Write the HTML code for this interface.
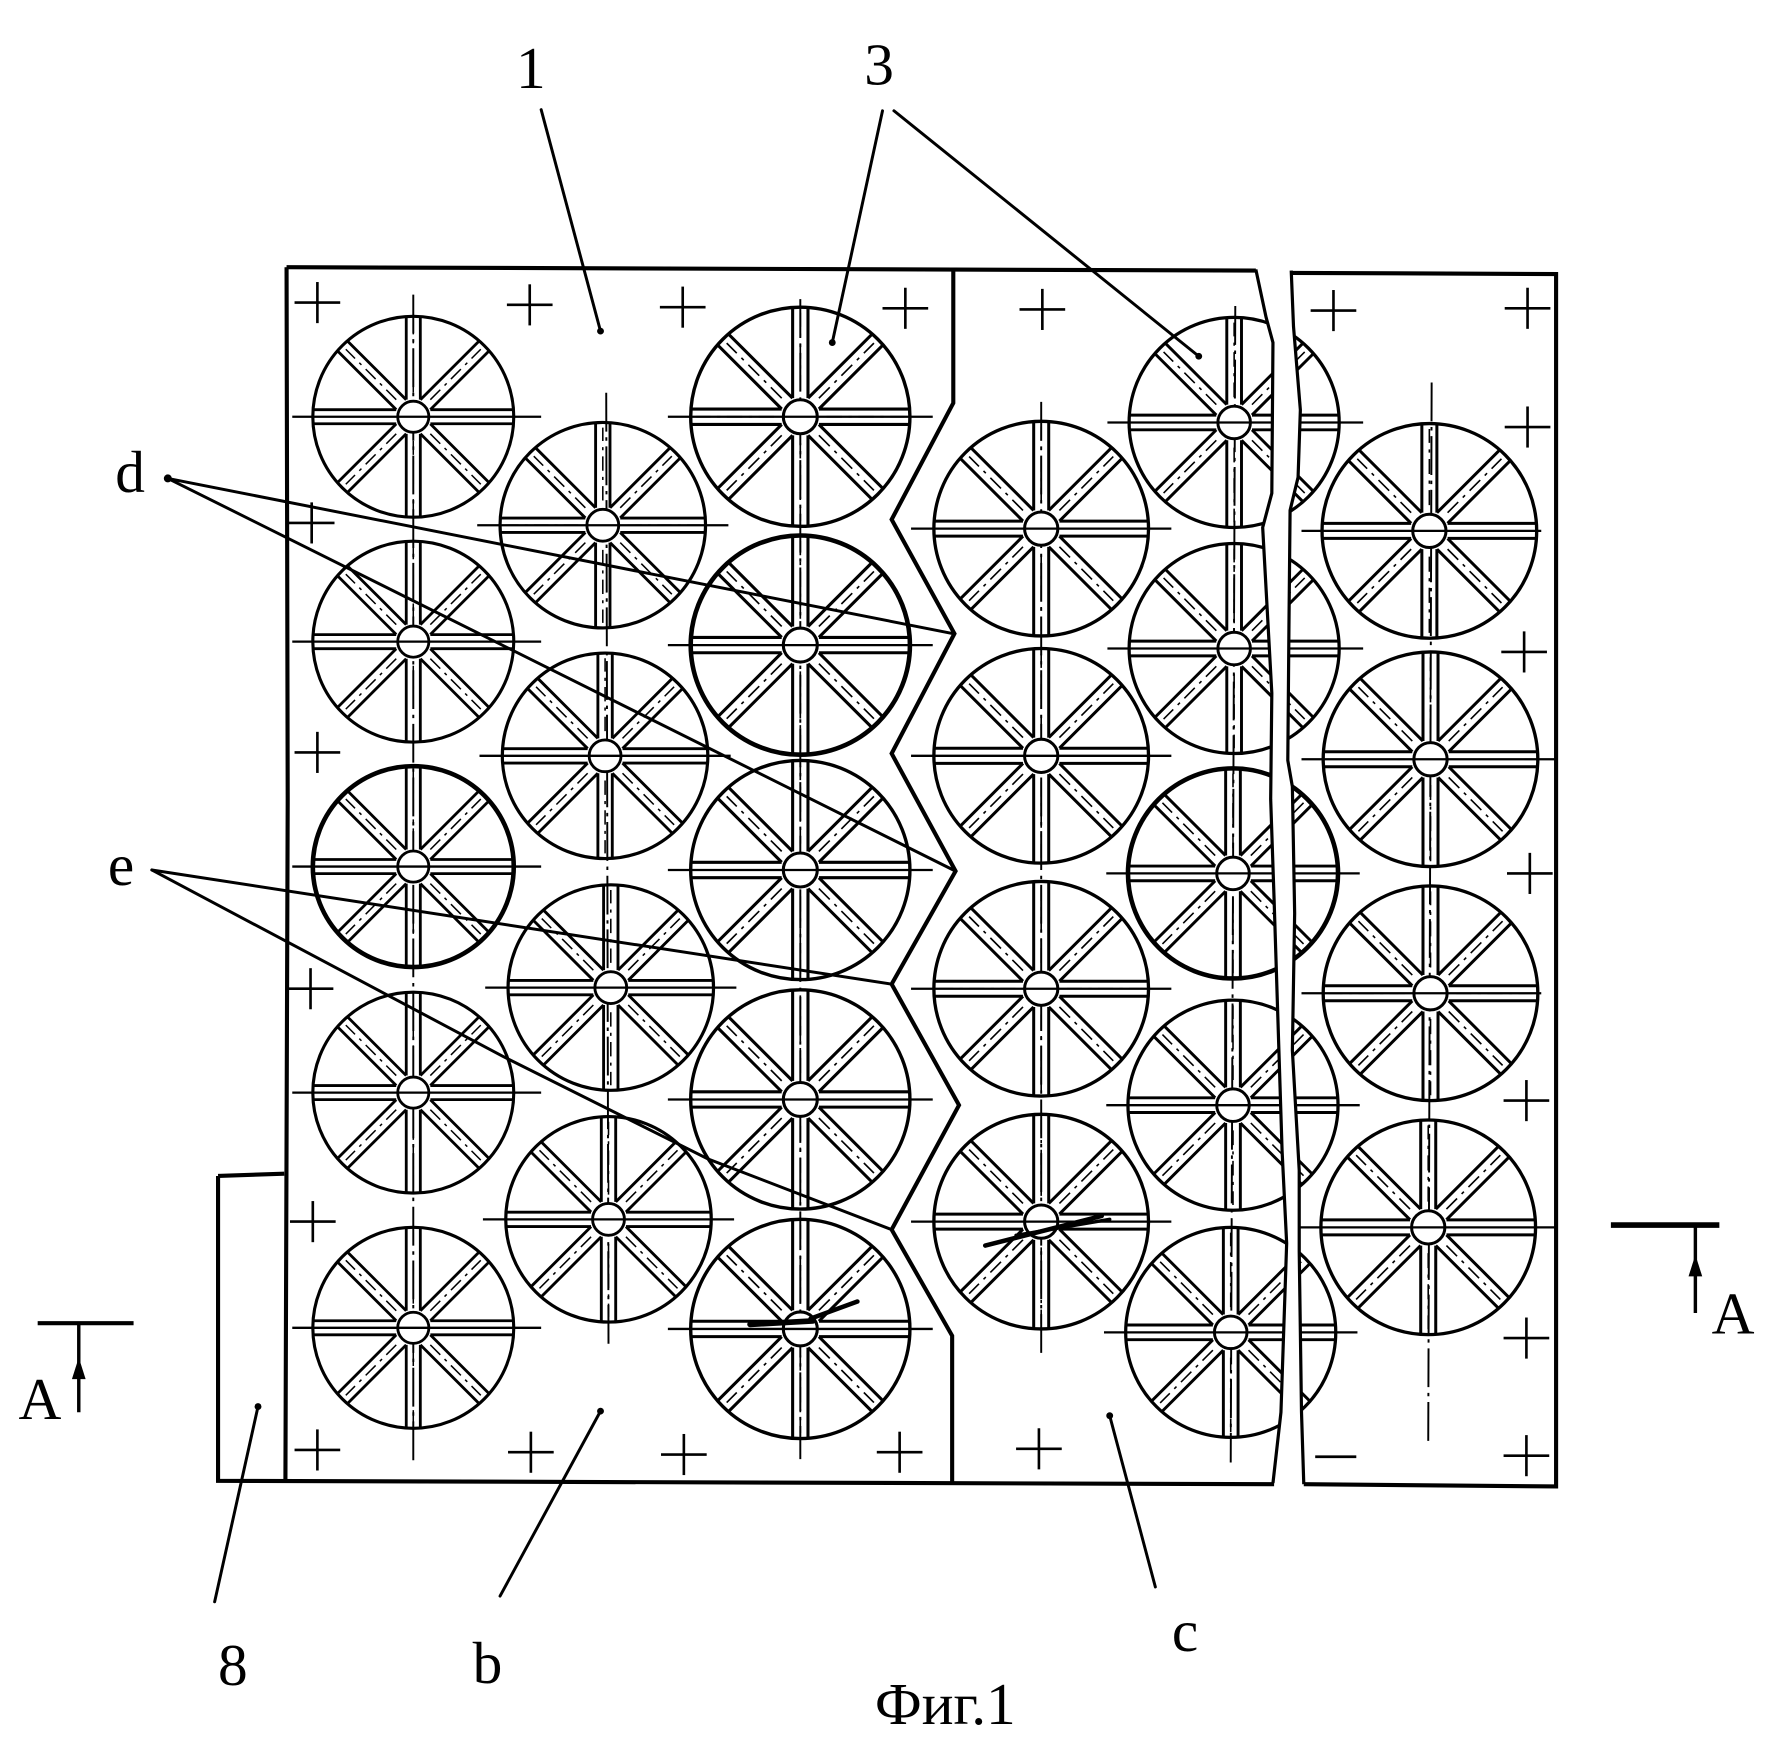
<!DOCTYPE html>
<html><head><meta charset="utf-8"><style>
html,body{margin:0;padding:0;background:#fff;}
svg{display:block;}
text{font-family:"Liberation Serif","DejaVu Serif",serif;font-size:52px;fill:#000;}
</style></head><body>
<svg width="1781" height="1745" viewBox="0 0 1560 1528.4" xmlns="http://www.w3.org/2000/svg">
<defs>
<g id="sp">
<line x1="17" y1="-7" x2="99.7" y2="-7"/>
<line x1="17" y1="7" x2="99.7" y2="7"/>
<line x1="24" y1="0" x2="95" y2="0" stroke-width="1.5" stroke-dasharray="14 6 3 6"/>
</g>
<g id="wh" fill="none" stroke="#000">
<circle r="100" stroke-width="3.1"/>
<g stroke-width="2.8">
<use href="#sp"/>
<use href="#sp" transform="rotate(45)"/>
<use href="#sp" transform="rotate(90)"/>
<use href="#sp" transform="rotate(135)"/>
<use href="#sp" transform="rotate(180)"/>
<use href="#sp" transform="rotate(225)"/>
<use href="#sp" transform="rotate(270)"/>
<use href="#sp" transform="rotate(315)"/>
</g>
<circle r="15.5" fill="#fff" stroke-width="2.8"/>
</g>
<g id="cr" stroke="#000" stroke-width="2.3">
<line x1="-20" y1="0" x2="20" y2="0"/>
<line x1="0" y1="-18" x2="0" y2="18"/>
</g>
</defs>
<rect x="0" y="0" width="1560" height="1528.4" fill="#fff"/>

<!-- vertical centerlines -->
<g stroke="#000" stroke-width="1.7" stroke-dasharray="34 5 3 5" fill="none">
<line x1="362" y1="258" x2="362" y2="1283"/>
<line x1="531" y1="344" x2="533" y2="1182"/>
<line x1="701" y1="262" x2="701" y2="1278"/>
<line x1="912" y1="352" x2="912" y2="1185"/>
<line x1="1082" y1="268" x2="1078" y2="1281"/>
<line x1="1254" y1="335" x2="1251" y2="1265"/>
</g>

<!-- wheels -->
<use href="#wh" transform="translate(362,365) scale(0.88)"/>
<use href="#wh" transform="translate(362,562) scale(0.88)"/>
<use href="#wh" transform="translate(362,759) scale(0.88)"/>
<use href="#wh" transform="translate(362,957) scale(0.88)"/>
<use href="#wh" transform="translate(362,1163) scale(0.88)"/>

<use href="#wh" transform="translate(528,460) scale(0.90)"/>
<use href="#wh" transform="translate(530,662) scale(0.90)"/>
<use href="#wh" transform="translate(535,865) scale(0.90)"/>
<use href="#wh" transform="translate(533,1068) scale(0.90)"/>

<use href="#wh" transform="translate(701,365) scale(0.96)"/>
<use href="#wh" transform="translate(701,565) scale(0.96)"/>
<use href="#wh" transform="translate(701,762) scale(0.96)"/>
<use href="#wh" transform="translate(701,963) scale(0.96)"/>
<use href="#wh" transform="translate(701,1164) scale(0.96)"/>

<use href="#wh" transform="translate(912,463) scale(0.94)"/>
<use href="#wh" transform="translate(912,662) scale(0.94)"/>
<use href="#wh" transform="translate(912,866) scale(0.94)"/>
<use href="#wh" transform="translate(912,1070) scale(0.94)"/>

<use href="#wh" transform="translate(1081,370) scale(0.92)"/>
<use href="#wh" transform="translate(1081,568) scale(0.92)"/>
<use href="#wh" transform="translate(1080,765) scale(0.92)"/>
<use href="#wh" transform="translate(1080,968) scale(0.92)"/>
<use href="#wh" transform="translate(1078,1167) scale(0.92)"/>

<use href="#wh" transform="translate(1252,465) scale(0.94)"/>
<use href="#wh" transform="translate(1253,665) scale(0.94)"/>
<use href="#wh" transform="translate(1253,870) scale(0.94)"/>
<use href="#wh" transform="translate(1251,1075) scale(0.94)"/>

<!-- bold rims -->
<g fill="none" stroke="#000" stroke-width="4">
<circle cx="362" cy="759" r="88"/>
<circle cx="701" cy="565" r="96"/>
<circle cx="1080" cy="765" r="92"/>
</g>

<!-- horizontal centerlines -->
<g stroke="#000" stroke-width="2" fill="none">
<line x1="256" y1="365" x2="474" y2="365"/>
<line x1="256" y1="562" x2="474" y2="562"/>
<line x1="256" y1="759" x2="474" y2="759"/>
<line x1="256" y1="957" x2="474" y2="957"/>
<line x1="256" y1="1163" x2="474" y2="1163"/>
<line x1="418" y1="460" x2="638" y2="460"/>
<line x1="420" y1="662" x2="640" y2="662"/>
<line x1="425" y1="865" x2="645" y2="865"/>
<line x1="423" y1="1068" x2="643" y2="1068"/>
<line x1="585" y1="365" x2="817" y2="365"/>
<line x1="585" y1="565" x2="817" y2="565"/>
<line x1="585" y1="762" x2="817" y2="762"/>
<line x1="585" y1="963" x2="817" y2="963"/>
<line x1="585" y1="1164" x2="817" y2="1164"/>
<line x1="798" y1="463" x2="1026" y2="463"/>
<line x1="798" y1="662" x2="1026" y2="662"/>
<line x1="798" y1="866" x2="1026" y2="866"/>
<line x1="798" y1="1070" x2="1026" y2="1070"/>
<line x1="970" y1="370" x2="1194" y2="370"/>
<line x1="970" y1="568" x2="1194" y2="568"/>
<line x1="969" y1="765" x2="1191" y2="765"/>
<line x1="969" y1="968" x2="1191" y2="968"/>
<line x1="967" y1="1167" x2="1189" y2="1167"/>
<line x1="1140" y1="465" x2="1350" y2="465"/>
<line x1="1140" y1="665" x2="1363" y2="665"/>
<line x1="1140" y1="870" x2="1350" y2="870"/>
<line x1="1138" y1="1075" x2="1363" y2="1075"/>
</g>

<!-- scribbles -->
<g stroke="#000" stroke-linecap="round" fill="none">
<line x1="863" y1="1091" x2="965" y2="1065" stroke-width="4"/>
<line x1="890" y1="1082" x2="972" y2="1068" stroke-width="3"/>
<line x1="657" y1="1160" x2="712" y2="1157" stroke-width="5"/>
<line x1="710" y1="1155" x2="751" y2="1140" stroke-width="4"/>
</g>

<!-- gap between break lines -->
<polygon fill="#fff" points="1100,236 1109,278 1115,300 1114,432 1106,462 1114,607 1113,700 1116,788 1123,1008 1127,1089 1122,1237 1115,1299 1142,1300 1140,1237 1138,1096 1138,1025 1132,920 1134,800 1132,689 1128,666 1129,549 1130,447 1137,418 1139,359 1133,286 1131,237"/>

<!-- frame -->
<g stroke="#000" stroke-width="3.6" fill="none" stroke-linejoin="miter">
<path d="M251,234 L1100,237"/>
<path d="M251,234 L252,700 L250,1297"/>
<path d="M191,1030 L249,1028"/>
<path d="M191,1030 L191,1297 L1116,1300"/>
<path d="M835,236 L835,353 L781,455 L836,555 L781,660 L837,763 L781,862 L840,968 L781,1077 L834,1170 L834,1299"/>
<path d="M1131,239 L1363,240 L1363,1302 L1142,1300"/>
</g>
<g stroke="#000" stroke-width="2.8" fill="none">
<polyline points="1100,236 1109,278 1115,300 1114,432 1106,462 1114,607 1113,700 1116,788 1123,1008 1127,1089 1122,1237 1115,1299"/>
<polyline points="1131,237 1133,286 1139,359 1137,418 1130,447 1129,549 1128,666 1132,689 1134,800 1132,920 1138,1025 1138,1096 1140,1237 1142,1300"/>
</g>

<!-- crosses -->
<use href="#cr" transform="translate(278,265)"/>
<use href="#cr" transform="translate(464,267)"/>
<use href="#cr" transform="translate(598,269)"/>
<use href="#cr" transform="translate(793,270)"/>
<use href="#cr" transform="translate(913,271)"/>
<use href="#cr" transform="translate(1168,272)"/>
<use href="#cr" transform="translate(1338,270)"/>
<use href="#cr" transform="translate(1338,374)"/>
<use href="#cr" transform="translate(1335,571)"/>
<use href="#cr" transform="translate(1340,765)"/>
<use href="#cr" transform="translate(1337,964)"/>
<use href="#cr" transform="translate(1337,1172)"/>
<use href="#cr" transform="translate(1337,1275)"/>
<use href="#cr" transform="translate(273,458)"/>
<use href="#cr" transform="translate(278,659)"/>
<use href="#cr" transform="translate(272,866)"/>
<use href="#cr" transform="translate(274,1070)"/>
<use href="#cr" transform="translate(278,1270)"/>
<use href="#cr" transform="translate(465,1272)"/>
<use href="#cr" transform="translate(599,1274)"/>
<use href="#cr" transform="translate(788,1272)"/>
<use href="#cr" transform="translate(910,1269)"/>
<line x1="1152" y1="1276" x2="1188" y2="1276" stroke="#000" stroke-width="2.4"/>

<!-- leaders -->
<g stroke="#000" stroke-width="2.6" fill="none" stroke-linecap="round">
<line x1="474" y1="96" x2="526" y2="290"/>
<line x1="773" y1="97" x2="729" y2="300"/>
<line x1="783" y1="97" x2="1050" y2="312"/>
<line x1="147" y1="419" x2="835" y2="555"/>
<line x1="147" y1="419" x2="837" y2="763"/>
<line x1="133" y1="762" x2="781" y2="862"/>
<path d="M133,762 L440,925 L620,1015 L781,1077"/>
<line x1="188" y1="1403" x2="226" y2="1232"/>
<line x1="438" y1="1398" x2="526" y2="1236"/>
<line x1="1012" y1="1390" x2="972" y2="1240"/>
</g>
<g fill="#000">
<circle cx="526" cy="290" r="3"/>
<circle cx="729" cy="300" r="3"/>
<circle cx="1050" cy="312" r="3"/>
<circle cx="147" cy="419" r="3.5"/>
<circle cx="226" cy="1232" r="3"/>
<circle cx="526" cy="1236" r="3"/>
<circle cx="972" cy="1240" r="3"/>
</g>

<!-- section marks A -->
<g stroke="#000" fill="none">
<line x1="33" y1="1159" x2="117" y2="1159" stroke-width="3.6"/>
<line x1="69" y1="1159" x2="69" y2="1237" stroke-width="3"/>
<line x1="1411" y1="1073" x2="1506" y2="1073" stroke-width="5"/>
<line x1="1485" y1="1073" x2="1485" y2="1150" stroke-width="3"/>
</g>
<polygon points="69,1189 63,1208 75,1208" fill="#000"/>
<polygon points="1485,1099 1479,1118 1491,1118" fill="#000"/>

<!-- labels -->
<text x="465" y="77" text-anchor="middle">1</text>
<text x="770" y="74" text-anchor="middle">3</text>
<text x="114" y="431" text-anchor="middle">d</text>
<text x="106" y="775" text-anchor="middle">e</text>
<text x="204" y="1476" text-anchor="middle">8</text>
<text x="427" y="1474" text-anchor="middle">b</text>
<text x="1038" y="1446" text-anchor="middle">c</text>
<text x="828" y="1510" text-anchor="middle">Фиг.1</text>
<text x="35" y="1243" text-anchor="middle">A</text>
<text x="1518" y="1168" text-anchor="middle">A</text>
</svg>
</body></html>
